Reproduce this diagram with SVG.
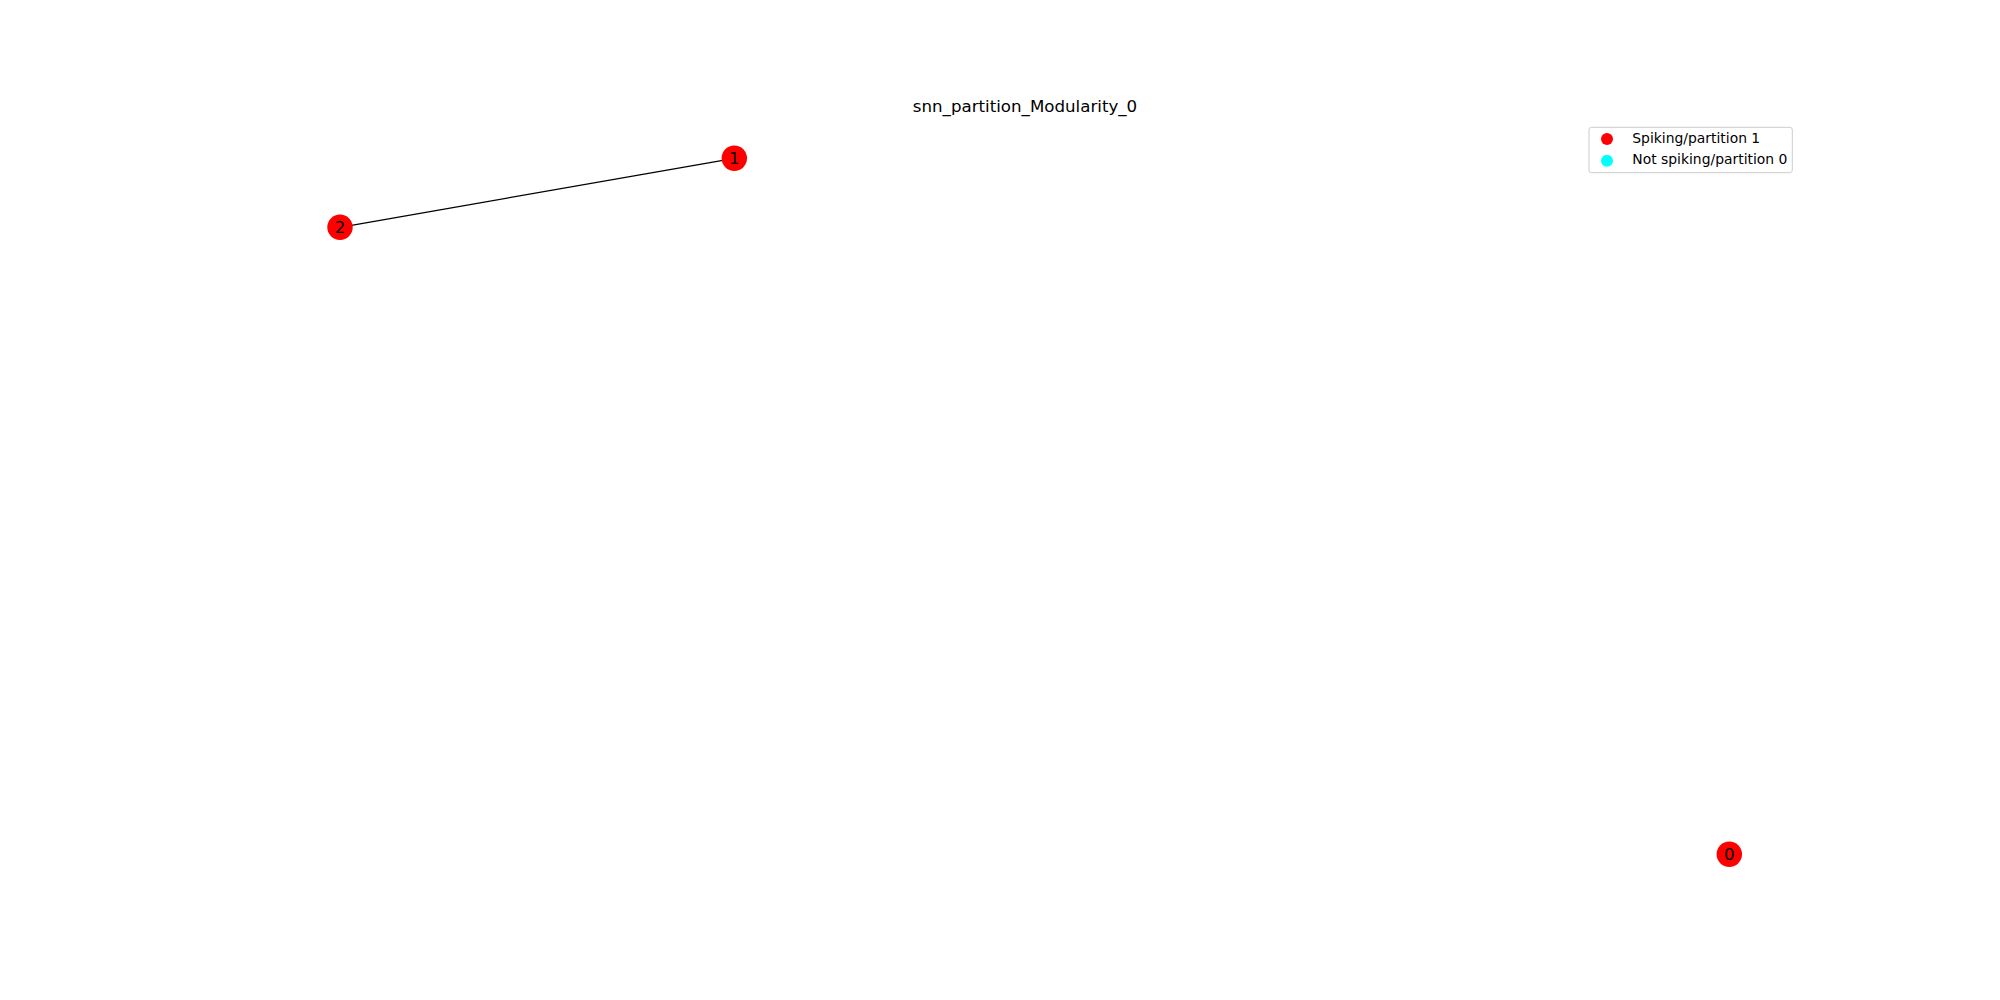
<svg xmlns="http://www.w3.org/2000/svg" width="2000" height="1000" viewBox="0 0 2000 1000">
<style>
text{font-family:"DejaVu Sans",sans-serif;fill:#000}
.node circle{fill:#ff0000}
.node text{font-size:16.67px;text-anchor:middle;dominant-baseline:central}
.edge{stroke:#000;stroke-width:1.3}
.leg{font-size:13.9px}
</style>
<rect width="2000" height="1000" fill="#fff"/>
<text x="1025" y="112" font-size="16.67" text-anchor="middle">snn_partition_Modularity_0</text>
<g id="connectors">
<line class="edge" x1="734.3" y1="158.3" x2="340" y2="227.3"/>
</g>
<g id="node-0" class="node"><circle cx="1729.3" cy="854.3" r="12.7"/><text x="1729.3" y="854.3">0</text></g>
<g id="node-1" class="node"><circle cx="734.3" cy="158.3" r="12.7"/><text x="734.3" y="158.3">1</text></g>
<g id="node-2" class="node"><circle cx="340" cy="227.3" r="12.7"/><text x="340" y="227.3">2</text></g>
<g id="legend">
<rect x="1589" y="127.3" width="203.3" height="45.4" rx="2.5" fill="#fff" fill-opacity="0.8" stroke="#ccc" stroke-width="1"/>
<circle cx="1607" cy="139" r="6" fill="#ff0000"/>
<circle cx="1607" cy="160.7" r="6" fill="#00ffff"/>
<text class="leg" x="1632.3" y="143.3">Spiking/partition 1</text>
<text class="leg" x="1632.3" y="164">Not spiking/partition 0</text>
</g>
</svg>
